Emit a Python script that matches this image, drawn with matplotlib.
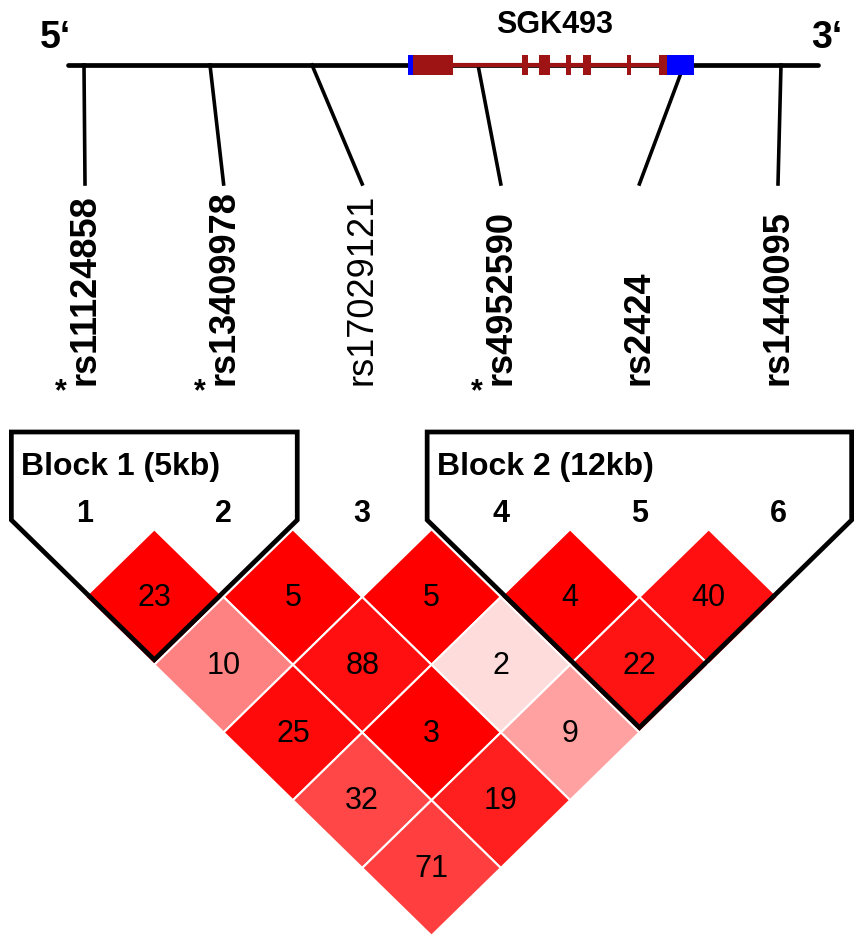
import matplotlib
matplotlib.use("Agg")
import matplotlib.pyplot as plt
from matplotlib.patches import Polygon, Rectangle
from matplotlib.colors import LinearSegmentedColormap

plt.rcParams['font.family'] = ['Liberation Sans', 'DejaVu Sans']

# SNP data
snp_names = ['rs11124858', 'rs13409978', 'rs17029121', 'rs4952590', 'rs2424', 'rs1440095']
snp_bold = [True, True, False, True, True, True]
snp_star = [True, True, False, True, False, False]
snp_gene_pos = [84, 210, 312, 478, 684, 781]   # position along the gene line

# gene structure (same units as the gene line)
utr_blocks = [(408, 413), (667, 694)]
exon_blocks = [(413, 453), (522, 528), (539, 550), (566, 571), (583, 591), (627, 631), (659, 667)]
intron_span = (453, 660)
gene_line = (68, 818)

# LD values by distance between markers (d = 1..5)
ld_values = [
    [23, 5, 5, 4, 40],
    [10, 88, 2, 22],
    [25, 3, 9],
    [32, 19],
    [71],
]
# colour strength (LOD shading) for each cell, 0 = white, 1 = full red
ld_shade = [
    [1.0, 1.0, 1.0, 1.0, 0.94],
    [0.49, 0.94, 0.14, 0.92],
    [0.96, 1.0, 0.37],
    [0.72, 0.875],
    [0.75],
]

blocks = [(0, 1, 'Block 1 (5kb)'), (3, 5, 'Block 2 (12kb)')]

# layout
W, H = 861, 947
X_FIRST, DX = 85, 138.6
HW, HH = DX / 2, 67.75
ROW1_Y = 597
GENE_Y = 65

fig = plt.figure(figsize=(W / 100, H / 100), dpi=100)
ax = fig.add_axes([0, 0, 1, 1])
ax.set_xlim(0, W)
ax.set_ylim(H, 0)
ax.axis('off')

mx = [X_FIRST + i * DX for i in range(len(snp_names))]

# gene diagram
ax.plot(gene_line, [GENE_Y, GENE_Y], color='black', lw=3.4, solid_capstyle='round', zorder=2)
ax.plot(intron_span, [GENE_Y, GENE_Y], color='#9e1414', lw=3, zorder=3)
for a, b in exon_blocks:
    ax.add_patch(Rectangle((a, GENE_Y - 10), b - a, 20, color='#9e1414', lw=0, zorder=4))
for a, b in utr_blocks:
    ax.add_patch(Rectangle((a, GENE_Y - 10), b - a, 20, color='#0000ff', lw=0, zorder=4))
ax.text(555, 25, 'SGK493', fontsize=22, fontweight='bold', ha='center', va='center')
ax.text(55, 38, '5\u2018', fontsize=27, fontweight='bold', ha='center', va='center')
ax.text(827, 38, '3\u2018', fontsize=27, fontweight='bold', ha='center', va='center')

# connectors and labels
for i, name in enumerate(snp_names):
    ax.plot([snp_gene_pos[i], mx[i]], [GENE_Y, 184], color='black', lw=2.6, zorder=1)
    ax.text(mx[i], 385, name, rotation=90, ha='center', va='bottom', fontsize=26,
            fontweight='bold' if snp_bold[i] else 'normal')
    if snp_star[i]:
        ax.text(mx[i] - 24, 400, '*', ha='center', va='baseline', fontsize=22, fontweight='bold')
    ax.text(mx[i], 514, str(i + 1), ha='center', va='center', fontsize=22, fontweight='bold')

# LD diamonds
cmap = LinearSegmentedColormap.from_list('ld', ['#ffffff', '#ff0000'])
for d, row in enumerate(ld_values, start=1):
    cy = ROW1_Y + (d - 1) * HH
    for i, val in enumerate(row):
        cx = (mx[i] + mx[i + d]) / 2
        verts = [(cx, cy - HH), (cx + HW, cy), (cx, cy + HH), (cx - HW, cy)]
        ax.add_patch(Polygon(verts, closed=True, facecolor=cmap(ld_shade[d - 1][i]),
                             edgecolor='white', lw=1.5, zorder=5))
        ax.text(cx, cy + 1, str(val), ha='center', va='center', fontsize=22, zorder=7)

# haplotype block outlines
for first, last, label in blocks:
    d = last - first
    cx = (mx[first] + mx[last]) / 2
    bottom = ROW1_Y + (d - 1) * HH + HH - 5
    shoulder = 520
    off = (bottom - shoulder) * HW / HH
    verts = [(cx - off, 432), (cx + off, 432), (cx + off, shoulder), (cx, bottom),
             (cx - off, shoulder)]
    ax.add_patch(Polygon(verts, closed=True, fill=False, edgecolor='black', lw=3.4,
                         joinstyle='miter', zorder=8))
    ax.text(cx - off + 10, 467, label, ha='left', va='center', fontsize=23, fontweight='bold',
            zorder=9)

fig.savefig('out.png', dpi=100)
